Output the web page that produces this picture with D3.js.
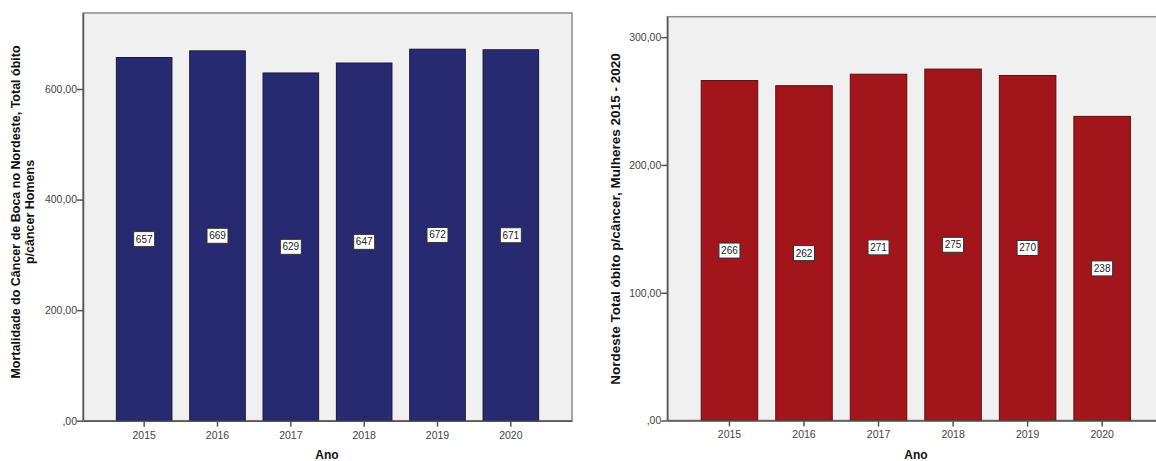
<!DOCTYPE html>
<html><head><meta charset="utf-8">
<script src="https://cdn.jsdelivr.net/npm/d3@7"></script>
<style>body{margin:0;background:#fff}svg{display:block}text{font-family:"Liberation Sans",Arial,sans-serif}</style>
</head><body>
<svg id="c" width="1156" height="461"></svg>
<script>
const years = ["2015","2016","2017","2018","2019","2020"];
const homens = [657, 669, 629, 647, 672, 671];
const mulheres = [266, 262, 271, 275, 270, 238];
const ticksHomens = [0, 200, 400, 600];
const ticksMulheres = [0, 100, 200, 300];
const titleHomens = ["Mortalidade do Câncer de Boca no Nordeste, Total óbito", "p/câncer Homens"];
const titleMulheres = ["Nordeste Total óbito p/câncer, Mulheres 2015 - 2020"];
const xTitle = "Ano";

const svg = d3.select("#c");
const fmt = v => v === 0 ? ",00" : d3.format(".2f")(v).replace(".", ",");

function panel(cfg) {
  const g = svg.append("g");
  const x = d3.scaleBand().domain(years).range([cfg.x0, cfg.x1]).paddingInner(0.242).paddingOuter(0.455);
  const y = d3.scaleLinear().domain([0, cfg.max]).range([cfg.y0, cfg.y1]);
  g.append("rect").attr("x", cfg.x0).attr("y", cfg.y1).attr("width", cfg.x1 - cfg.x0).attr("height", cfg.y0 - cfg.y1)
    .attr("fill", "#f0f0f0").attr("stroke", "#8a8a8a").attr("stroke-width", 1.5);
  g.selectAll(".bar").data(cfg.values).join("rect")
    .attr("x", (d, i) => x(years[i])).attr("width", x.bandwidth())
    .attr("y", d => y(d)).attr("height", d => y(0) - y(d))
    .attr("fill", cfg.color).attr("stroke", cfg.stroke).attr("stroke-width", 1);
  const ya = g.append("g").attr("transform", `translate(${cfg.x0},0)`)
    .call(d3.axisLeft(y).tickValues(cfg.ticks).tickFormat(fmt).tickSize(6).tickSizeOuter(0));
  ya.select(".domain").attr("stroke", "#555").attr("stroke-width", 1.5);
  ya.selectAll(".tick line").attr("stroke", "#555").attr("stroke-width", 1.5);
  ya.selectAll("text").attr("fill", "#444").attr("font-size", 10.5).attr("x", -6);
  const xa = g.append("g").attr("transform", `translate(0,${cfg.y0})`)
    .call(d3.axisBottom(x).tickSize(6).tickSizeOuter(0));
  xa.select(".domain").attr("stroke", "#555").attr("stroke-width", 1.5);
  xa.selectAll(".tick line").attr("stroke", "#555").attr("stroke-width", 1.5);
  xa.selectAll("text").attr("fill", "#444").attr("font-size", 10.5).attr("dy", "0.85em");
  const lab = g.selectAll(".lab").data(cfg.values).join("g")
    .attr("transform", (d, i) => `translate(${x(years[i]) + x.bandwidth() / 2},${y(d / 2)})`);
  lab.append("rect").attr("x", -10.5).attr("y", -7.5).attr("width", 21).attr("height", 15)
    .attr("fill", "#fff").attr("stroke", "#333").attr("stroke-width", 1);
  lab.append("text").attr("text-anchor", "middle").attr("dy", "0.35em").attr("font-size", 10)
    .attr("fill", "#222").text(d => d);
  const cy = cfg.cy;
  cfg.title.forEach((t, i) => {
    g.append("text").attr("transform", `translate(${cfg.tx + i * 14},${cy}) rotate(-90)`)
      .attr("text-anchor", "middle").attr("font-size", cfg.tfs).attr("font-weight", "bold").attr("fill", "#111")
      .attr("dy", "0.35em").text(t);
  });
  g.append("text").attr("x", cfg.ax).attr("y", 459)
    .attr("text-anchor", "middle").attr("font-size", 12).attr("font-weight", "bold").attr("fill", "#111").text(xTitle);
}

panel({x0: 83, x1: 572, y0: 420.7, y1: 13, max: 737.5, values: homens, ticks: ticksHomens,
  color: "#272a70", stroke: "#15173f", title: titleHomens, tx: 16, tfs: 12.5, cy: 212, ax: 327});
panel({x0: 667.3, x1: 1164.3, y0: 420.5, y1: 16.7, max: 316, values: mulheres, ticks: ticksMulheres,
  color: "#a1151b", stroke: "#5c0b0e", title: titleMulheres, tx: 615, tfs: 13.5, cy: 219, ax: 916});
</script>
</body></html>
